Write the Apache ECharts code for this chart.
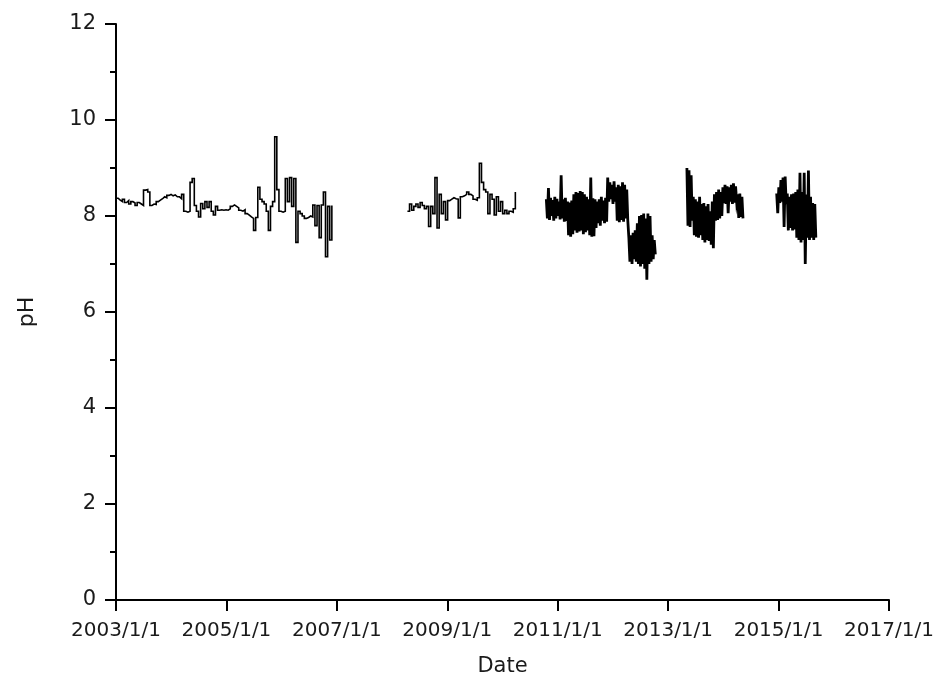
<!DOCTYPE html>
<html>
<head>
<meta charset="utf-8">
<script src="https://cdn.jsdelivr.net/npm/echarts@6/dist/echarts.min.js"></script>
<style>
  html, body { margin: 0; padding: 0; background: #fff; }
  #chart { width: 938px; height: 686px; }
</style>
</head>
<body>
<div id="chart"></div>
<script>
// Axis tick labels (one every two years, 2003 to 2017) and pH ticks
const xTickLabels = ['2003/1/1', '2005/1/1', '2007/1/1', '2009/1/1', '2011/1/1', '2013/1/1', '2015/1/1', '2017/1/1'];
const axisStart = '2003-01-01';
const axisEnd = '2017-01-01';

// Monitoring campaign 1: fortnightly samples from 2003/1/1
const seg1Start = '2003-01-01';
const seg1StepDays = 14;
const seg1Values = [
  8.37, 8.33, 8.30, 8.35, 8.28, 8.32, 8.25, 8.30, 8.27, 8.22, 8.28, 8.25,
  8.22,
  8.54, 8.55, 8.50,
  8.22, 8.25, 8.24, 8.30, 8.33, 8.36, 8.40, 8.38, 8.43, 8.45, 8.42, 8.44, 8.40,
  8.40, 8.36, 8.45,
  8.10, 8.08, 8.10,
  8.70, 8.78,
  8.22, 8.10, 7.98, 8.26, 8.15,
  8.30, 8.18, 8.30, 8.10, 8.02, 8.20,
  8.12, 8.13, 8.12, 8.13, 8.12, 8.15,
  8.20, 8.23, 8.20, 8.17, 8.12, 8.10, 8.13,
  8.05, 8.02, 7.98, 7.95, 7.70, 7.97,
  8.60, 8.35, 8.30, 8.25,
  8.10, 7.70, 8.20, 8.30,
  9.65,
  8.55, 8.10, 8.08, 8.10,
  8.78, 8.30, 8.80,
  8.20, 8.78, 7.45,
  8.10, 8.05,
  8.00, 7.95, 7.97, 8.00, 7.98,
  8.23, 7.80, 8.22, 7.55, 8.23, 8.50, 7.15, 8.20, 7.50, 8.22
];

// Campaign 2: fortnightly samples from spring 2008
const seg2Start = '2008-04-12';
const seg2StepDays = 14;
const seg2Values = [
  8.10, 8.25, 8.12, 8.20, 8.25, 8.18, 8.28, 8.22, 8.15, 8.20,
  7.78, 8.20, 8.05, 8.80, 7.75,
  8.45, 8.05, 8.30, 7.92,
  8.32, 8.35, 8.38, 8.36, 8.35, 7.96,
  8.40, 8.42, 8.45, 8.50, 8.45, 8.42,
  8.35, 8.33, 8.38, 9.10, 8.70,
  8.55, 8.50, 8.05, 8.45, 8.35, 8.02, 8.40, 8.10,
  8.30, 8.05, 8.12, 8.05, 8.10, 8.08, 8.15, 8.50
];

// Campaign 3: weekly samples from autumn 2010 (strong week-to-week swings)
const seg3Start = '2010-10-18';
const seg3StepDays = 7;
const seg3Values = [
  8.35, 7.95, 8.58, 7.92, 8.38, 8.00, 8.33, 7.90, 8.40, 7.95, 8.36, 8.00, 8.30, 7.93,
  8.85, 7.95,
  8.35, 7.88, 8.38, 7.90,
  8.30, 7.60, 8.28, 7.57, 8.32, 7.62,
  8.45, 7.70, 8.50, 7.65, 8.48, 7.68, 8.52, 7.70, 8.50, 7.62, 8.45, 7.66, 8.40, 7.70,
  8.35, 7.60, 8.80, 7.57,
  8.37, 7.58, 8.35, 7.75,
  8.30, 7.85, 8.35, 7.80, 8.40, 7.90, 8.32, 7.85, 8.38, 7.88,
  8.80, 8.30, 8.70, 8.35, 8.65, 8.25, 8.72, 8.30,
  8.60, 7.90, 8.65, 7.87, 8.62, 7.92, 8.70, 7.88, 8.65, 7.95, 8.55, 7.90,
  7.55, 7.05, 7.60, 7.00, 7.65, 7.10, 7.70, 7.05, 7.85, 7.00,
  8.00, 6.95, 8.02, 7.00, 8.05, 6.90, 7.95, 6.67, 8.05, 7.00, 8.00, 7.05, 7.60, 7.10, 7.50, 7.20
];

// Campaign 4: weekly samples from May 2013
const seg4Start = '2013-05-05';
const seg4StepDays = 7;
const seg4Values = [
  9.00, 7.80, 8.95, 7.77, 8.85, 7.90,
  8.40, 7.60, 8.35, 7.57, 8.30, 7.55, 8.40, 7.60,
  8.25, 7.50, 8.27, 7.45, 8.20, 7.50, 8.25, 7.48, 8.10, 7.40,
  8.30, 7.33,
  8.45, 7.90, 8.50, 7.92, 8.55, 7.95, 8.50, 8.00,
  8.60, 8.27, 8.65, 8.25, 8.62, 8.06, 8.60, 8.30, 8.65, 8.25, 8.68, 8.28, 8.62, 8.30,
  8.45, 7.96, 8.47, 7.98, 8.40, 7.95
];

// Campaign 5: weekly samples from December 2014
const seg5Start = '2014-12-20';
const seg5StepDays = 7;
const seg5Values = [
  8.47, 8.06,
  8.60, 8.27, 8.75, 8.30, 8.80, 7.77, 8.82, 8.25,
  8.47, 7.70, 8.40, 7.75, 8.45, 7.70, 8.47, 7.72,
  8.50, 7.55, 8.55, 7.50, 8.90, 7.45, 8.50, 7.50, 8.90, 7.00, 8.45, 7.55, 8.95, 7.50, 8.40, 7.55,
  8.27, 7.50, 8.25, 7.55
];

const campaigns = [
  { start: seg1Start, step: seg1StepDays, values: seg1Values, stepped: true },
  { start: seg2Start, step: seg2StepDays, values: seg2Values, stepped: true },
  { start: seg3Start, step: seg3StepDays, values: seg3Values, stepped: false },
  { start: seg4Start, step: seg4StepDays, values: seg4Values, stepped: false },
  { start: seg5Start, step: seg5StepDays, values: seg5Values, stepped: false }
];

// Time is plotted as years elapsed since 2003/1/1 so ticks fall on every other New Year
const DAY = 86400000;
const t0 = Date.parse(axisStart);
const t1 = Date.parse(axisEnd);
const spanYears = 14;
function toAxisYears(ms) { return (ms - t0) / (t1 - t0) * spanYears; }

const series = campaigns.map(c => {
  const base = Date.parse(c.start);
  return {
    type: 'line',
    step: c.stepped ? 'end' : false,
    showSymbol: false,
    symbol: 'none',
    silent: true,
    lineStyle: { color: '#000', width: c.stepped ? 1.6 : 2.8, join: 'miter' },
    data: c.values.map((v, i) => [toAxisYears(base + i * c.step * DAY), v])
  };
});

const labelFont = 'DejaVu Sans';
const chart = echarts.init(document.getElementById('chart'), null, { renderer: 'canvas' });
chart.setOption({
  animation: false,
  backgroundColor: '#fff',
  grid: { left: 116, right: 49, top: 24, bottom: 86, containLabel: false },
  xAxis: {
    type: 'value',
    min: 0,
    max: spanYears,
    interval: 2,
    name: 'Date',
    nameLocation: 'middle',
    nameGap: 56,
    nameTextStyle: { fontFamily: labelFont, fontSize: 21, color: '#1a1a1a' },
    axisLine: { show: true, onZero: false, lineStyle: { color: '#000', width: 2 } },
    axisTick: { show: true, inside: false, length: 11, lineStyle: { color: '#000', width: 2 } },
    minorTick: { show: false },
    splitLine: { show: false },
    axisLabel: {
      margin: 21,
      fontFamily: labelFont,
      fontSize: 20,
      color: '#1a1a1a',
      formatter: v => xTickLabels[Math.round(v / 2)] || ''
    }
  },
  yAxis: {
    type: 'value',
    min: 0,
    max: 12,
    interval: 2,
    name: 'pH',
    nameLocation: 'middle',
    nameGap: 78,
    nameRotate: 90,
    nameTextStyle: { fontFamily: labelFont, fontSize: 22, color: '#1a1a1a' },
    axisLine: { show: true, lineStyle: { color: '#000', width: 2 } },
    axisTick: { show: true, inside: false, length: 11, lineStyle: { color: '#000', width: 2 } },
    minorTick: { show: true, splitNumber: 2, length: 6, lineStyle: { color: '#000', width: 2 } },
    splitLine: { show: false },
    axisLabel: {
      margin: 20,
      fontFamily: labelFont,
      fontSize: 21,
      color: '#1a1a1a'
    }
  },
  series: series
});
</script>
</body>
</html>
